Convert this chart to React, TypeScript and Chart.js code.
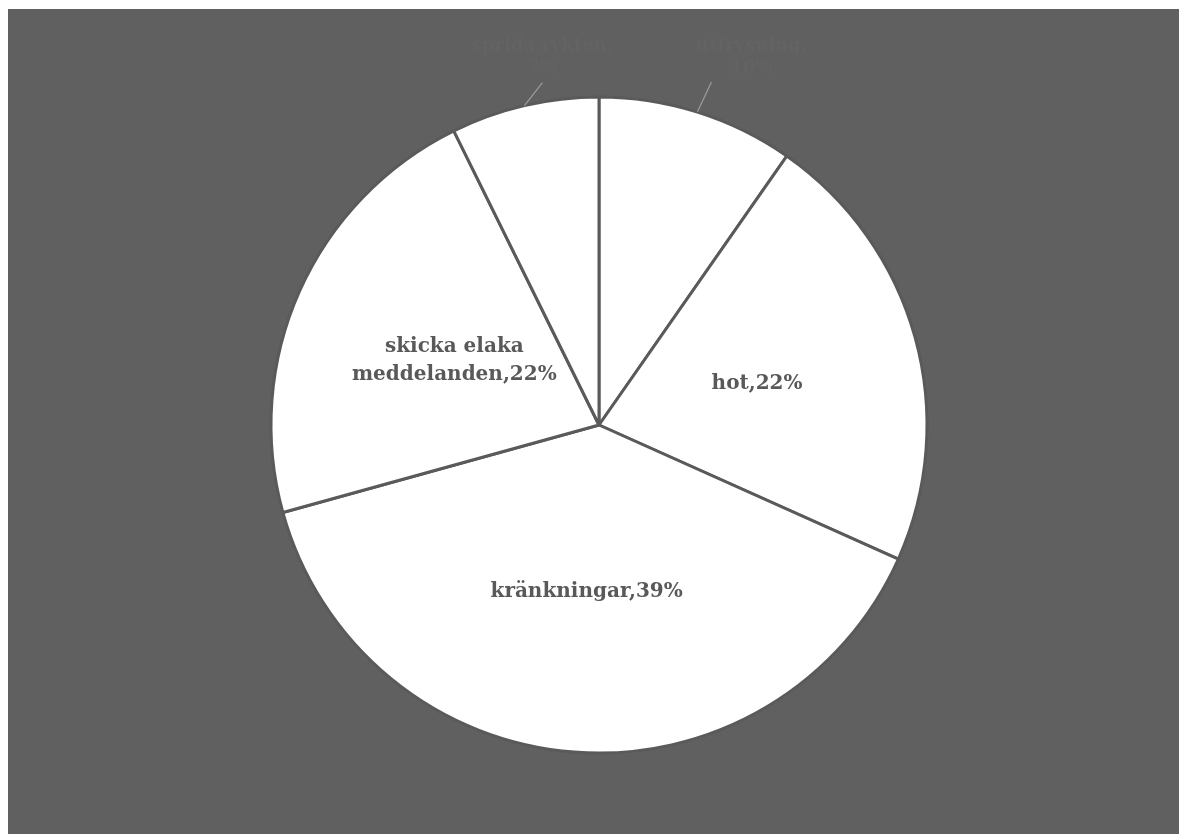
import React, { useEffect, useRef } from "react";
import { Chart, registerables } from "chart.js";

Chart.register(...registerables);

const categories: string[][] = [
  ["utfrysning,", "10%"],
  ["hot,22%"],
  ["kränkningar,39%"],
  ["skicka elaka", "meddelanden,22%"],
  ["sprida rykten,", "7%"],
];
const values: number[] = [9.7, 22, 39, 22, 7.3];
const outerOffsets: Record<number, [number, number]> = { 0: [14, -30], 4: [18, -23] };

const labelPlugin = {
  id: "pieLabels",
  afterDatasetsDraw(chart: any) {
    const ctx = chart.ctx as CanvasRenderingContext2D;
    const meta = chart.getDatasetMeta(0);
    ctx.save();
    ctx.textAlign = "center";
    ctx.textBaseline = "middle";
    const lh = 28;
    meta.data.forEach((arc: any, i: number) => {
      const lines = categories[i];
      const off = outerOffsets[i];
      if (!off) {
        const p = arc.tooltipPosition();
        ctx.font = "bold 20px 'DejaVu Serif'";
        ctx.fillStyle = "#595959";
        lines.forEach((ln, k) => {
          ctx.fillText(ln, p.x + (lines.length > 1 ? 5 : 0), p.y + (k - (lines.length - 1) / 2) * lh + 3);
        });
      } else {
        const mid = (arc.startAngle + arc.endAngle) / 2;
        const r = arc.outerRadius;
        const sx = arc.x + Math.cos(mid) * r;
        const sy = arc.y + Math.sin(mid) * r;
        const ex = sx + off[0];
        const ey = sy + off[1];
        ctx.strokeStyle = "#9c9c9c";
        ctx.lineWidth = 1.2;
        ctx.beginPath();
        ctx.moveTo(sx, sy);
        ctx.lineTo(ex, ey);
        ctx.stroke();
        ctx.fillStyle = "#636363";
        ctx.font = "bold 18px 'DejaVu Serif'";
        const cx = ex + (i === 0 ? 40 : 0);
        lines.forEach((ln, k) => {
          ctx.fillText(ln, cx, ey - 36 + k * 22);
        });
      }
    });
    ctx.restore();
  },
};

export default function App() {
  const ref = useRef<HTMLCanvasElement | null>(null);
  useEffect(() => {
    document.documentElement.style.overflow = "hidden";
    if (!ref.current) return;
    const chart = new Chart(ref.current, {
      type: "pie",
      data: {
        labels: categories.map((c) => c.join(" ")),
        datasets: [
          {
            data: values,
            backgroundColor: "#ffffff",
            borderColor: "#5a5a5a",
            borderWidth: 3,
          },
        ],
      },
      options: {
        animation: false,
        responsive: false,
        maintainAspectRatio: false,
        layout: { padding: { left: 261.5, right: 250.5, top: 86.5, bottom: 79.5 } },
        plugins: { legend: { display: false }, tooltip: { enabled: false } },
      },
      plugins: [labelPlugin],
    });
    return () => chart.destroy();
  }, []);
  return (
    <div
      style={{
        position: "absolute",
        left: 8,
        top: 9,
        width: 1171,
        height: 825,
        background: "#606060",
        overflow: "hidden",
      }}
    >
      <canvas ref={ref} width={1171} height={825} style={{ display: "block" }} />
    </div>
  );
}
